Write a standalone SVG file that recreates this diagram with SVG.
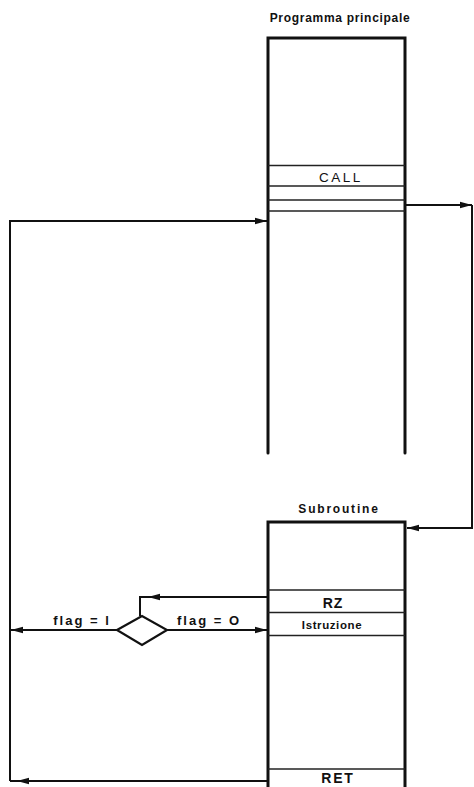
<svg xmlns="http://www.w3.org/2000/svg" width="474" height="787" viewBox="0 0 474 787">
<style>
  .wall { fill: none; stroke: #111; stroke-width: 3; stroke-linecap: round; }
  .sep { fill: none; stroke: #222; stroke-width: 1.4; }
  .conn { fill: none; stroke: #111; stroke-width: 2; }
  .head { fill: #111; }
  .title { font-family: "Liberation Sans", Arial, sans-serif; font-weight: bold; font-size: 12px; fill: #111; }
  .lbl { font-family: "Liberation Sans", Arial, sans-serif; font-weight: bold; font-size: 13px; fill: #111; }
</style>
<defs>
  <marker id="arr" markerUnits="userSpaceOnUse" markerWidth="13" markerHeight="8" refX="12" refY="4" orient="auto">
    <path d="M0,0.8 L12,4 L0,7.2 Z" fill="#111"/>
  </marker>
</defs>
<rect width="474" height="787" fill="#fff"/>

<g id="programma">
  <text class="title" x="340" y="22" text-anchor="middle" style="letter-spacing:0.7px">Programma principale</text>
  <polyline class="wall" points="268,453 268,38 405,38 405,453"/>
  <line class="sep" x1="268" y1="165.5" x2="405" y2="165.5"/>
  <line class="sep" x1="268" y1="186" x2="405" y2="186"/>
  <line class="sep" x1="268" y1="200" x2="405" y2="200"/>
  <line class="sep" x1="268" y1="211" x2="405" y2="211"/>
  <text class="lbl" x="341" y="181.5" text-anchor="middle" style="letter-spacing:2.5px;font-weight:normal;font-size:13.5px">CALL</text>
</g>

<g id="subroutine">
  <text class="title" x="339" y="513" text-anchor="middle" style="letter-spacing:1.8px">Subroutine</text>
  <polyline class="wall" points="268,787 268,522 405,522 405,787"/>
  <line class="sep" x1="268" y1="590" x2="405" y2="590"/>
  <line class="sep" x1="268" y1="612.5" x2="405" y2="612.5"/>
  <line class="sep" x1="268" y1="635.5" x2="405" y2="635.5"/>
  <line class="sep" x1="268" y1="769" x2="405" y2="769"/>
  <text class="lbl" x="333" y="608" text-anchor="middle" style="font-size:14px;letter-spacing:1px">RZ</text>
  <text class="lbl" x="332" y="629" text-anchor="middle" style="font-size:11.5px;letter-spacing:0.6px">Istruzione</text>
  <text class="lbl" x="338" y="783" text-anchor="middle" style="font-size:14px;letter-spacing:1.8px">RET</text>
</g>

<g id="decisione">
  <polygon points="117,630 142,616 167,630 142,645" fill="#fff" stroke="#111" stroke-width="2.2" stroke-linejoin="miter"/>
</g>

<g id="connettori">
  <line class="conn" x1="405" y1="205" x2="472" y2="205" marker-end="url(#arr)"/>
  <polyline class="conn" points="472,205 472,528 407,528" marker-end="url(#arr)"/>
  <polyline class="conn" points="10,781 10,221 267,221" marker-end="url(#arr)"/>
  <line class="conn" x1="267" y1="781" x2="10" y2="781"/>
  <path class="head" d="M17,781 L29,777.8 L29,784.2 Z"/>
  <polyline class="conn" points="267,597 140,597 140,616"/>
  <path class="head" d="M148,597 L160,593.8 L160,600.2 Z"/>
  <line class="conn" x1="167" y1="630" x2="267" y2="630" marker-end="url(#arr)"/>
  <line class="conn" x1="117" y1="630" x2="11" y2="630" marker-end="url(#arr)"/>
  <text class="lbl" x="82" y="624.5" text-anchor="middle" style="letter-spacing:2px">flag = l</text>
  <text class="lbl" x="209" y="624.5" text-anchor="middle" style="letter-spacing:2px">flag = O</text>
</g>
</svg>
